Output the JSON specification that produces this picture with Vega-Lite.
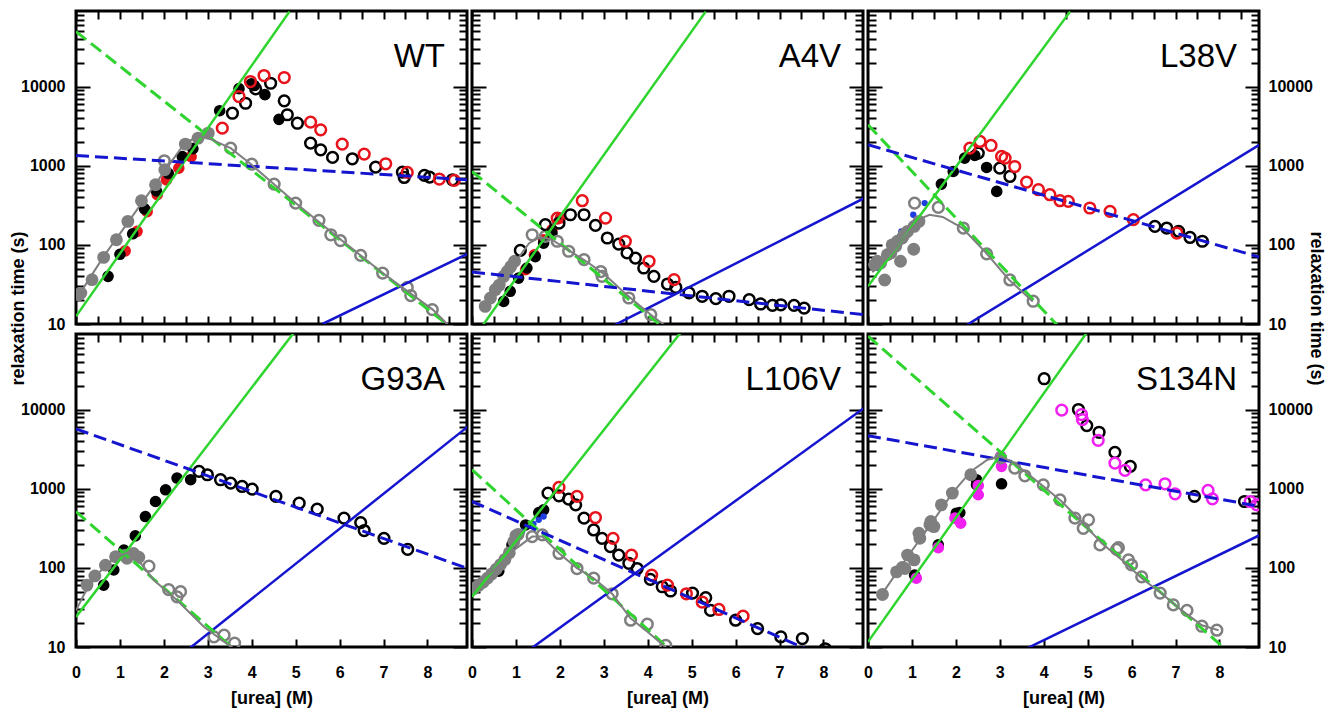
{
"$schema":"https://vega.github.io/schema/vega-lite/v6.json",
"autosize":{"type":"pad"},
"padding":{"left":7,"top":8,"right":4,"bottom":2},
"background":"white",
"datasets":{"d":[
{"p":"WT","g":"C","k":"refold","x":1.12,"y":84},{"p":"WT","g":"C","k":"refold","x":1.39,"y":148},{"p":"WT","g":"C","k":"refold","x":1.62,"y":263},{"p":"WT","g":"C","k":"refold","x":1.85,"y":430},{"p":"WT","g":"C","k":"refold","x":2.06,"y":660},{"p":"WT","g":"C","k":"refold","x":2.34,"y":930},{"p":"WT","g":"C","k":"refold","x":2.62,"y":1300},
{"p":"WT","g":"B","k":"refold","x":0.73,"y":40},{"p":"WT","g":"B","k":"refold","x":1.0,"y":76},{"p":"WT","g":"B","k":"refold","x":1.29,"y":138},{"p":"WT","g":"B","k":"refold","x":1.56,"y":285},{"p":"WT","g":"B","k":"refold","x":1.83,"y":480},{"p":"WT","g":"B","k":"refold","x":2.1,"y":800},{"p":"WT","g":"B","k":"refold","x":2.42,"y":1300},{"p":"WT","g":"B","k":"refold","x":2.66,"y":1640},{"p":"WT","g":"B","k":"refold","x":3.27,"y":4950},{"p":"WT","g":"B","k":"refold","x":3.71,"y":9400},{"p":"WT","g":"B","k":"refold","x":3.99,"y":10800},{"p":"WT","g":"B","k":"refold","x":4.06,"y":10300},{"p":"WT","g":"B","k":"refold","x":4.3,"y":7900},{"p":"WT","g":"B","k":"refold","x":4.62,"y":3850},
{"p":"WT","g":"A","k":"refold","x":0.06,"y":23.5},{"p":"WT","g":"A","k":"refold","x":0.11,"y":24.6},{"p":"WT","g":"A","k":"refold","x":0.365,"y":36.3},{"p":"WT","g":"A","k":"refold","x":0.63,"y":69.5},{"p":"WT","g":"A","k":"refold","x":0.92,"y":116},{"p":"WT","g":"A","k":"refold","x":1.18,"y":198},{"p":"WT","g":"A","k":"refold","x":1.49,"y":361},{"p":"WT","g":"A","k":"refold","x":1.81,"y":574},{"p":"WT","g":"A","k":"refold","x":2.02,"y":889},{"p":"WT","g":"A","k":"refold","x":2.49,"y":1871},{"p":"WT","g":"A","k":"refold","x":2.78,"y":2230},{"p":"WT","g":"A","k":"refold","x":3.01,"y":2577},
{"p":"WT","g":"A","k":"unfold","x":2.01,"y":1153},{"p":"WT","g":"A","k":"unfold","x":3.52,"y":1667},{"p":"WT","g":"A","k":"unfold","x":4.0,"y":1045},{"p":"WT","g":"A","k":"unfold","x":4.51,"y":585},{"p":"WT","g":"A","k":"unfold","x":5.0,"y":337},{"p":"WT","g":"A","k":"unfold","x":5.53,"y":204},{"p":"WT","g":"A","k":"unfold","x":5.8,"y":134},{"p":"WT","g":"A","k":"unfold","x":6.02,"y":113},{"p":"WT","g":"A","k":"unfold","x":6.48,"y":73.6},{"p":"WT","g":"A","k":"unfold","x":6.98,"y":44},{"p":"WT","g":"A","k":"unfold","x":7.54,"y":29},{"p":"WT","g":"A","k":"unfold","x":7.62,"y":22.8},{"p":"WT","g":"A","k":"unfold","x":8.11,"y":15.2},
{"p":"WT","g":"B","k":"unfold","x":3.56,"y":4600},{"p":"WT","g":"B","k":"unfold","x":3.86,"y":6150},{"p":"WT","g":"B","k":"unfold","x":4.09,"y":9340},{"p":"WT","g":"B","k":"unfold","x":4.43,"y":11000},{"p":"WT","g":"B","k":"unfold","x":4.74,"y":6590},{"p":"WT","g":"B","k":"unfold","x":4.81,"y":4400},{"p":"WT","g":"B","k":"unfold","x":5.04,"y":3440},{"p":"WT","g":"B","k":"unfold","x":5.34,"y":1924},{"p":"WT","g":"B","k":"unfold","x":5.57,"y":1587},{"p":"WT","g":"B","k":"unfold","x":5.84,"y":1271},{"p":"WT","g":"B","k":"unfold","x":6.29,"y":1222},{"p":"WT","g":"B","k":"unfold","x":6.82,"y":958},{"p":"WT","g":"B","k":"unfold","x":7.43,"y":828},{"p":"WT","g":"B","k":"unfold","x":7.47,"y":710},{"p":"WT","g":"B","k":"unfold","x":7.93,"y":754},{"p":"WT","g":"B","k":"unfold","x":8.05,"y":718},{"p":"WT","g":"B","k":"unfold","x":8.57,"y":664},
{"p":"WT","g":"C","k":"unfold","x":3.33,"y":2980},{"p":"WT","g":"C","k":"unfold","x":3.71,"y":7480},{"p":"WT","g":"C","k":"unfold","x":3.97,"y":11570},{"p":"WT","g":"C","k":"unfold","x":4.28,"y":13770},{"p":"WT","g":"C","k":"unfold","x":4.74,"y":13000},{"p":"WT","g":"C","k":"unfold","x":5.34,"y":3550},{"p":"WT","g":"C","k":"unfold","x":5.57,"y":2840},{"p":"WT","g":"C","k":"unfold","x":6.06,"y":1870},{"p":"WT","g":"C","k":"unfold","x":6.56,"y":1400},{"p":"WT","g":"C","k":"unfold","x":7.05,"y":1057},{"p":"WT","g":"C","k":"unfold","x":7.54,"y":822},{"p":"WT","g":"C","k":"unfold","x":8.27,"y":678},{"p":"WT","g":"C","k":"unfold","x":8.61,"y":652},
{"p":"WT","g":"M_f","k":"fit","x":0,"y":12.5},{"p":"WT","g":"M_f","k":"fit","x":4.86,"y":88500},{"p":"WT","g":"M_u","k":"fit","x":0,"y":49400},{"p":"WT","g":"M_u","k":"fit","x":8.5,"y":9.35},{"p":"WT","g":"D_f","k":"fit","x":5.61,"y":10},{"p":"WT","g":"D_f","k":"fit","x":8.91,"y":77},{"p":"WT","g":"D_u","k":"fit","x":0,"y":1346},{"p":"WT","g":"D_u","k":"fit","x":8.91,"y":664},
{"p":"WT","g":"A","k":"global","x":0,"y":20.3},{"p":"WT","g":"A","k":"global","x":0.63,"y":71.5},{"p":"WT","g":"A","k":"global","x":1.2,"y":198},{"p":"WT","g":"A","k":"global","x":1.82,"y":603},{"p":"WT","g":"A","k":"global","x":2.45,"y":1837},{"p":"WT","g":"A","k":"global","x":2.7,"y":2250},{"p":"WT","g":"A","k":"global","x":2.87,"y":2340},{"p":"WT","g":"A","k":"global","x":3.1,"y":2120},{"p":"WT","g":"A","k":"global","x":3.52,"y":1667},{"p":"WT","g":"A","k":"global","x":4.0,"y":1025},{"p":"WT","g":"A","k":"global","x":5.0,"y":337},{"p":"WT","g":"A","k":"global","x":6.03,"y":116},{"p":"WT","g":"A","k":"global","x":6.98,"y":44},{"p":"WT","g":"A","k":"global","x":8.12,"y":15.2},{"p":"WT","g":"A","k":"global","x":8.5,"y":9.35},

{"p":"A4V","g":"C","k":"refold","x":1.22,"y":48.5},{"p":"A4V","g":"C","k":"refold","x":1.42,"y":75},{"p":"A4V","g":"C","k":"refold","x":1.63,"y":116},{"p":"A4V","g":"C","k":"refold","x":1.82,"y":155},{"p":"A4V","g":"C","k":"refold","x":2.01,"y":218},
{"p":"A4V","g":"B","k":"refold","x":0.72,"y":19.3},{"p":"A4V","g":"B","k":"refold","x":0.87,"y":25.9},{"p":"A4V","g":"B","k":"refold","x":1.06,"y":38},{"p":"A4V","g":"B","k":"refold","x":1.25,"y":51},{"p":"A4V","g":"B","k":"refold","x":1.44,"y":71},{"p":"A4V","g":"B","k":"refold","x":1.63,"y":105},{"p":"A4V","g":"B","k":"refold","x":1.82,"y":141},
{"p":"A4V","g":"A","k":"refold","x":0.3,"y":16.7},{"p":"A4V","g":"A","k":"refold","x":0.42,"y":21.3},{"p":"A4V","g":"A","k":"refold","x":0.53,"y":27.2},{"p":"A4V","g":"A","k":"refold","x":0.62,"y":31},{"p":"A4V","g":"A","k":"refold","x":0.72,"y":40},{"p":"A4V","g":"A","k":"refold","x":0.8,"y":46},{"p":"A4V","g":"A","k":"refold","x":0.88,"y":53},{"p":"A4V","g":"A","k":"refold","x":0.97,"y":62},
{"p":"A4V","g":"A","k":"unfold","x":1.37,"y":134},{"p":"A4V","g":"A","k":"unfold","x":1.67,"y":128},{"p":"A4V","g":"A","k":"unfold","x":1.94,"y":111},{"p":"A4V","g":"A","k":"unfold","x":2.2,"y":83},{"p":"A4V","g":"A","k":"unfold","x":2.55,"y":65},{"p":"A4V","g":"A","k":"unfold","x":2.93,"y":46},{"p":"A4V","g":"A","k":"unfold","x":2.96,"y":40},{"p":"A4V","g":"A","k":"unfold","x":3.57,"y":21.3},{"p":"A4V","g":"A","k":"unfold","x":4.07,"y":13.1},
{"p":"A4V","g":"B","k":"unfold","x":1.1,"y":85},{"p":"A4V","g":"B","k":"unfold","x":1.67,"y":180},{"p":"A4V","g":"B","k":"unfold","x":1.98,"y":188},{"p":"A4V","g":"B","k":"unfold","x":2.24,"y":240},{"p":"A4V","g":"B","k":"unfold","x":2.55,"y":240},{"p":"A4V","g":"B","k":"unfold","x":2.81,"y":176},{"p":"A4V","g":"B","k":"unfold","x":3.08,"y":122},{"p":"A4V","g":"B","k":"unfold","x":3.34,"y":102},{"p":"A4V","g":"B","k":"unfold","x":3.53,"y":79},{"p":"A4V","g":"B","k":"unfold","x":3.72,"y":68},{"p":"A4V","g":"B","k":"unfold","x":3.91,"y":51},{"p":"A4V","g":"B","k":"unfold","x":4.14,"y":40},{"p":"A4V","g":"B","k":"unfold","x":4.45,"y":32},{"p":"A4V","g":"B","k":"unfold","x":4.64,"y":29},{"p":"A4V","g":"B","k":"unfold","x":4.94,"y":24.7},{"p":"A4V","g":"B","k":"unfold","x":5.24,"y":22.4},{"p":"A4V","g":"B","k":"unfold","x":5.55,"y":20.9},{"p":"A4V","g":"B","k":"unfold","x":5.85,"y":22.4},{"p":"A4V","g":"B","k":"unfold","x":6.31,"y":20.3},{"p":"A4V","g":"B","k":"unfold","x":6.57,"y":17.9},{"p":"A4V","g":"B","k":"unfold","x":6.84,"y":17.2},{"p":"A4V","g":"B","k":"unfold","x":7.03,"y":17.5},{"p":"A4V","g":"B","k":"unfold","x":7.33,"y":17.2},{"p":"A4V","g":"B","k":"unfold","x":7.56,"y":15.9},
{"p":"A4V","g":"C","k":"unfold","x":1.94,"y":218},{"p":"A4V","g":"C","k":"unfold","x":2.51,"y":361},{"p":"A4V","g":"C","k":"unfold","x":3.04,"y":218},{"p":"A4V","g":"C","k":"unfold","x":3.49,"y":111},{"p":"A4V","g":"C","k":"unfold","x":4.03,"y":62},{"p":"A4V","g":"C","k":"unfold","x":4.6,"y":36.3},
{"p":"A4V","g":"M_f","k":"fit","x":0.228,"y":9.35},{"p":"A4V","g":"M_f","k":"fit","x":5.32,"y":88500},{"p":"A4V","g":"M_u","k":"fit","x":0,"y":845},{"p":"A4V","g":"M_u","k":"fit","x":4.37,"y":8.9},{"p":"A4V","g":"D_f","k":"fit","x":3.19,"y":9.35},{"p":"A4V","g":"D_f","k":"fit","x":8.93,"y":390},{"p":"A4V","g":"D_u","k":"fit","x":0,"y":45.4},{"p":"A4V","g":"D_u","k":"fit","x":8.93,"y":13.1},
{"p":"A4V","g":"A","k":"global","x":0.25,"y":15},{"p":"A4V","g":"A","k":"global","x":0.6,"y":30},{"p":"A4V","g":"A","k":"global","x":1.0,"y":62},{"p":"A4V","g":"A","k":"global","x":1.3,"y":105},{"p":"A4V","g":"A","k":"global","x":1.55,"y":125},{"p":"A4V","g":"A","k":"global","x":1.8,"y":118},{"p":"A4V","g":"A","k":"global","x":2.2,"y":85},{"p":"A4V","g":"A","k":"global","x":2.6,"y":62},{"p":"A4V","g":"A","k":"global","x":3.0,"y":43},{"p":"A4V","g":"A","k":"global","x":3.5,"y":24},{"p":"A4V","g":"A","k":"global","x":4.07,"y":13.1},{"p":"A4V","g":"A","k":"global","x":4.4,"y":9.5},

{"p":"L38V","g":"B","k":"refold","x":1.67,"y":585},{"p":"L38V","g":"B","k":"refold","x":1.94,"y":845},{"p":"L38V","g":"B","k":"refold","x":2.2,"y":1245},{"p":"L38V","g":"B","k":"refold","x":2.43,"y":1346},{"p":"L38V","g":"B","k":"refold","x":2.7,"y":950},{"p":"L38V","g":"B","k":"refold","x":2.93,"y":473},
{"p":"L38V","g":"D","k":"refold","x":0.23,"y":51},{"p":"L38V","g":"D","k":"refold","x":0.53,"y":91},{"p":"L38V","g":"D","k":"refold","x":0.76,"y":148},{"p":"L38V","g":"D","k":"refold","x":1.03,"y":240},{"p":"L38V","g":"D","k":"refold","x":1.29,"y":337},
{"p":"L38V","g":"A","k":"refold","x":0.15,"y":56},{"p":"L38V","g":"A","k":"refold","x":0.21,"y":62},{"p":"L38V","g":"A","k":"refold","x":0.29,"y":59},{"p":"L38V","g":"A","k":"refold","x":0.38,"y":36},{"p":"L38V","g":"A","k":"refold","x":0.44,"y":75},{"p":"L38V","g":"A","k":"refold","x":0.52,"y":79},{"p":"L38V","g":"A","k":"refold","x":0.55,"y":100},{"p":"L38V","g":"A","k":"refold","x":0.63,"y":96},{"p":"L38V","g":"A","k":"refold","x":0.67,"y":111},{"p":"L38V","g":"A","k":"refold","x":0.74,"y":62},{"p":"L38V","g":"A","k":"refold","x":0.78,"y":122},{"p":"L38V","g":"A","k":"refold","x":0.82,"y":134},{"p":"L38V","g":"A","k":"refold","x":0.9,"y":148},{"p":"L38V","g":"A","k":"refold","x":1.04,"y":88},{"p":"L38V","g":"A","k":"refold","x":1.05,"y":171},{"p":"L38V","g":"A","k":"refold","x":1.16,"y":198},
{"p":"L38V","g":"A","k":"unfold","x":1.06,"y":337},{"p":"L38V","g":"A","k":"unfold","x":1.6,"y":297},{"p":"L38V","g":"A","k":"unfold","x":2.17,"y":163},{"p":"L38V","g":"A","k":"unfold","x":2.7,"y":77},{"p":"L38V","g":"A","k":"unfold","x":3.23,"y":36},{"p":"L38V","g":"A","k":"unfold","x":3.76,"y":19.4},
{"p":"L38V","g":"B","k":"unfold","x":2.51,"y":1442},{"p":"L38V","g":"B","k":"unfold","x":3.0,"y":931},{"p":"L38V","g":"B","k":"unfold","x":3.23,"y":731},{"p":"L38V","g":"B","k":"unfold","x":6.53,"y":171},{"p":"L38V","g":"B","k":"unfold","x":6.8,"y":163},{"p":"L38V","g":"B","k":"unfold","x":7.07,"y":148},{"p":"L38V","g":"B","k":"unfold","x":7.33,"y":124},{"p":"L38V","g":"B","k":"unfold","x":7.61,"y":111},
{"p":"L38V","g":"C","k":"unfold","x":2.32,"y":1667},{"p":"L38V","g":"C","k":"unfold","x":2.55,"y":2024},{"p":"L38V","g":"C","k":"unfold","x":2.8,"y":1800},{"p":"L38V","g":"C","k":"unfold","x":3.04,"y":1309},{"p":"L38V","g":"C","k":"unfold","x":3.12,"y":1245},{"p":"L38V","g":"C","k":"unfold","x":3.34,"y":977},{"p":"L38V","g":"C","k":"unfold","x":3.61,"y":621},{"p":"L38V","g":"C","k":"unfold","x":3.88,"y":497},{"p":"L38V","g":"C","k":"unfold","x":4.14,"y":430},{"p":"L38V","g":"C","k":"unfold","x":4.37,"y":361},{"p":"L38V","g":"C","k":"unfold","x":4.56,"y":354},{"p":"L38V","g":"C","k":"unfold","x":5.05,"y":292},{"p":"L38V","g":"C","k":"unfold","x":5.51,"y":265},{"p":"L38V","g":"C","k":"unfold","x":6.04,"y":208},{"p":"L38V","g":"C","k":"unfold","x":7.03,"y":141},
{"p":"L38V","g":"M_f","k":"fit","x":0,"y":29.9},{"p":"L38V","g":"M_f","k":"fit","x":4.6,"y":88500},{"p":"L38V","g":"M_u","k":"fit","x":0,"y":3280},{"p":"L38V","g":"M_u","k":"fit","x":4.37,"y":8.9},{"p":"L38V","g":"D_f","k":"fit","x":2.2,"y":9.35},{"p":"L38V","g":"D_f","k":"fit","x":8.93,"y":1871},{"p":"L38V","g":"D_u","k":"fit","x":0,"y":1837},{"p":"L38V","g":"D_u","k":"fit","x":8.93,"y":69.5},
{"p":"L38V","g":"A","k":"global","x":0.1,"y":45},{"p":"L38V","g":"A","k":"global","x":0.5,"y":75},{"p":"L38V","g":"A","k":"global","x":0.9,"y":140},{"p":"L38V","g":"A","k":"global","x":1.2,"y":215},{"p":"L38V","g":"A","k":"global","x":1.4,"y":240},{"p":"L38V","g":"A","k":"global","x":1.7,"y":225},{"p":"L38V","g":"A","k":"global","x":2.15,"y":163},{"p":"L38V","g":"A","k":"global","x":2.68,"y":80},{"p":"L38V","g":"A","k":"global","x":3.21,"y":36.3},{"p":"L38V","g":"A","k":"global","x":3.75,"y":19.3},

{"p":"G93A","g":"B","k":"refold","x":0.63,"y":60.5},{"p":"G93A","g":"B","k":"refold","x":0.86,"y":94},{"p":"G93A","g":"B","k":"refold","x":1.09,"y":168},{"p":"G93A","g":"B","k":"refold","x":1.35,"y":253},{"p":"G93A","g":"B","k":"refold","x":1.58,"y":445},{"p":"G93A","g":"B","k":"refold","x":1.81,"y":689},{"p":"G93A","g":"B","k":"refold","x":2.04,"y":969},{"p":"G93A","g":"B","k":"refold","x":2.3,"y":1363},{"p":"G93A","g":"B","k":"refold","x":2.61,"y":1298},
{"p":"G93A","g":"A","k":"refold","x":0.25,"y":60.5},{"p":"G93A","g":"A","k":"refold","x":0.43,"y":79},{"p":"G93A","g":"A","k":"refold","x":0.67,"y":108},{"p":"G93A","g":"A","k":"refold","x":0.9,"y":138},{"p":"G93A","g":"A","k":"refold","x":1.12,"y":145},{"p":"G93A","g":"A","k":"refold","x":1.16,"y":132},{"p":"G93A","g":"A","k":"refold","x":1.31,"y":152},{"p":"G93A","g":"A","k":"refold","x":1.43,"y":136},
{"p":"G93A","g":"A","k":"unfold","x":1.66,"y":105},{"p":"G93A","g":"A","k":"unfold","x":2.11,"y":53},{"p":"G93A","g":"A","k":"unfold","x":2.3,"y":43},{"p":"G93A","g":"A","k":"unfold","x":2.38,"y":50},{"p":"G93A","g":"A","k":"unfold","x":3.14,"y":13.4},{"p":"G93A","g":"A","k":"unfold","x":3.37,"y":14.1},{"p":"G93A","g":"A","k":"unfold","x":3.61,"y":11.2},
{"p":"G93A","g":"B","k":"unfold","x":2.8,"y":1652},{"p":"G93A","g":"B","k":"unfold","x":2.99,"y":1500},{"p":"G93A","g":"B","k":"unfold","x":3.29,"y":1298},{"p":"G93A","g":"B","k":"unfold","x":3.52,"y":1178},{"p":"G93A","g":"B","k":"unfold","x":3.78,"y":1067},{"p":"G93A","g":"B","k":"unfold","x":4.01,"y":987},{"p":"G93A","g":"B","k":"unfold","x":4.55,"y":798},{"p":"G93A","g":"B","k":"unfold","x":5.08,"y":656},{"p":"G93A","g":"B","k":"unfold","x":5.49,"y":551},{"p":"G93A","g":"B","k":"unfold","x":6.1,"y":424},{"p":"G93A","g":"B","k":"unfold","x":6.48,"y":373},{"p":"G93A","g":"B","k":"unfold","x":6.56,"y":296},{"p":"G93A","g":"B","k":"unfold","x":7.01,"y":236},{"p":"G93A","g":"B","k":"unfold","x":7.55,"y":171},
{"p":"G93A","g":"M_f","k":"fit","x":0,"y":24},{"p":"G93A","g":"M_f","k":"fit","x":4.96,"y":93800},{"p":"G93A","g":"M_u","k":"fit","x":0,"y":514},{"p":"G93A","g":"M_u","k":"fit","x":3.67,"y":8.65},{"p":"G93A","g":"D_f","k":"fit","x":2.53,"y":9.1},{"p":"G93A","g":"D_f","k":"fit","x":8.91,"y":6030},{"p":"G93A","g":"D_u","k":"fit","x":0,"y":5690},{"p":"G93A","g":"D_u","k":"fit","x":8.91,"y":98.5},
{"p":"G93A","g":"A","k":"global","x":0,"y":29},{"p":"G93A","g":"A","k":"global","x":0.2,"y":48},{"p":"G93A","g":"A","k":"global","x":0.5,"y":85},{"p":"G93A","g":"A","k":"global","x":0.85,"y":130},{"p":"G93A","g":"A","k":"global","x":1.16,"y":155},{"p":"G93A","g":"A","k":"global","x":1.5,"y":110},{"p":"G93A","g":"A","k":"global","x":1.77,"y":70},{"p":"G93A","g":"A","k":"global","x":2.3,"y":39},{"p":"G93A","g":"A","k":"global","x":2.91,"y":18},{"p":"G93A","g":"A","k":"global","x":3.59,"y":9.5},

{"p":"L106V","g":"B","k":"refold","x":0.61,"y":91},{"p":"L106V","g":"B","k":"refold","x":0.91,"y":195},{"p":"L106V","g":"B","k":"refold","x":1.22,"y":348},{"p":"L106V","g":"B","k":"refold","x":1.52,"y":500},{"p":"L106V","g":"B","k":"refold","x":1.63,"y":540},
{"p":"L106V","g":"D","k":"refold","x":0.08,"y":60},{"p":"L106V","g":"D","k":"refold","x":0.3,"y":72},{"p":"L106V","g":"D","k":"refold","x":0.6,"y":105},{"p":"L106V","g":"D","k":"refold","x":0.9,"y":170},{"p":"L106V","g":"D","k":"refold","x":1.14,"y":287},{"p":"L106V","g":"D","k":"refold","x":1.4,"y":360},{"p":"L106V","g":"D","k":"refold","x":1.52,"y":404},{"p":"L106V","g":"D","k":"refold","x":1.63,"y":445},
{"p":"L106V","g":"A","k":"refold","x":0.05,"y":55},{"p":"L106V","g":"A","k":"refold","x":0.15,"y":60},{"p":"L106V","g":"A","k":"refold","x":0.25,"y":66},{"p":"L106V","g":"A","k":"refold","x":0.35,"y":74},{"p":"L106V","g":"A","k":"refold","x":0.45,"y":84},{"p":"L106V","g":"A","k":"refold","x":0.55,"y":96},{"p":"L106V","g":"A","k":"refold","x":0.65,"y":110},{"p":"L106V","g":"A","k":"refold","x":0.75,"y":128},{"p":"L106V","g":"A","k":"refold","x":0.85,"y":155},{"p":"L106V","g":"A","k":"refold","x":0.95,"y":215},{"p":"L106V","g":"A","k":"refold","x":1.0,"y":255},{"p":"L106V","g":"A","k":"refold","x":1.05,"y":265},
{"p":"L106V","g":"A","k":"unfold","x":1.37,"y":248},{"p":"L106V","g":"A","k":"unfold","x":1.6,"y":261},{"p":"L106V","g":"A","k":"unfold","x":1.98,"y":152},{"p":"L106V","g":"A","k":"unfold","x":2.39,"y":98},{"p":"L106V","g":"A","k":"unfold","x":2.77,"y":74},{"p":"L106V","g":"A","k":"unfold","x":3.19,"y":47},{"p":"L106V","g":"A","k":"unfold","x":3.61,"y":21.8},{"p":"L106V","g":"A","k":"unfold","x":3.99,"y":19.4},{"p":"L106V","g":"A","k":"unfold","x":4.41,"y":10.5},
{"p":"L106V","g":"B","k":"unfold","x":1.73,"y":879},{"p":"L106V","g":"B","k":"unfold","x":1.98,"y":813},{"p":"L106V","g":"B","k":"unfold","x":2.2,"y":738},{"p":"L106V","g":"B","k":"unfold","x":2.36,"y":625},{"p":"L106V","g":"B","k":"unfold","x":2.55,"y":424},{"p":"L106V","g":"B","k":"unfold","x":2.77,"y":301},{"p":"L106V","g":"B","k":"unfold","x":2.96,"y":236},{"p":"L106V","g":"B","k":"unfold","x":3.15,"y":185},{"p":"L106V","g":"B","k":"unfold","x":3.34,"y":145},{"p":"L106V","g":"B","k":"unfold","x":3.57,"y":114},{"p":"L106V","g":"B","k":"unfold","x":3.76,"y":98},{"p":"L106V","g":"B","k":"unfold","x":4.06,"y":71.5},{"p":"L106V","g":"B","k":"unfold","x":4.33,"y":57.7},{"p":"L106V","g":"B","k":"unfold","x":4.52,"y":51},{"p":"L106V","g":"B","k":"unfold","x":5.02,"y":48},{"p":"L106V","g":"B","k":"unfold","x":5.32,"y":42},{"p":"L106V","g":"B","k":"unfold","x":5.43,"y":29},{"p":"L106V","g":"B","k":"unfold","x":6.0,"y":21.8},{"p":"L106V","g":"B","k":"unfold","x":6.5,"y":17.1},{"p":"L106V","g":"B","k":"unfold","x":7.03,"y":13.4},{"p":"L106V","g":"B","k":"unfold","x":7.52,"y":12.8},{"p":"L106V","g":"B","k":"unfold","x":8.04,"y":9.5},
{"p":"L106V","g":"C","k":"unfold","x":1.98,"y":1037},{"p":"L106V","g":"C","k":"unfold","x":2.39,"y":798},{"p":"L106V","g":"C","k":"unfold","x":2.81,"y":432},{"p":"L106V","g":"C","k":"unfold","x":3.21,"y":236},{"p":"L106V","g":"C","k":"unfold","x":3.63,"y":145},{"p":"L106V","g":"C","k":"unfold","x":4.09,"y":81},{"p":"L106V","g":"C","k":"unfold","x":4.45,"y":60.5},{"p":"L106V","g":"C","k":"unfold","x":4.88,"y":47},{"p":"L106V","g":"C","k":"unfold","x":5.24,"y":37},{"p":"L106V","g":"C","k":"unfold","x":5.62,"y":29.8},{"p":"L106V","g":"C","k":"unfold","x":6.17,"y":24.5},
{"p":"L106V","g":"M_f","k":"fit","x":0,"y":43},{"p":"L106V","g":"M_f","k":"fit","x":4.75,"y":93800},{"p":"L106V","g":"M_u","k":"fit","x":0,"y":1738},{"p":"L106V","g":"M_u","k":"fit","x":4.56,"y":8.65},{"p":"L106V","g":"D_f","k":"fit","x":1.29,"y":9.1},{"p":"L106V","g":"D_f","k":"fit","x":8.93,"y":10500},{"p":"L106V","g":"D_u","k":"fit","x":0,"y":689},{"p":"L106V","g":"D_u","k":"fit","x":7.67,"y":9.1},
{"p":"L106V","g":"A","k":"global","x":0,"y":57.7},{"p":"L106V","g":"A","k":"global","x":0.5,"y":95},{"p":"L106V","g":"A","k":"global","x":1.0,"y":175},{"p":"L106V","g":"A","k":"global","x":1.37,"y":248},{"p":"L106V","g":"A","k":"global","x":1.6,"y":248},{"p":"L106V","g":"A","k":"global","x":1.98,"y":153},{"p":"L106V","g":"A","k":"global","x":2.39,"y":99},{"p":"L106V","g":"A","k":"global","x":2.77,"y":74},{"p":"L106V","g":"A","k":"global","x":3.19,"y":47},{"p":"L106V","g":"A","k":"global","x":3.61,"y":23},{"p":"L106V","g":"A","k":"global","x":4.0,"y":15.5},{"p":"L106V","g":"A","k":"global","x":4.45,"y":9.5},

{"p":"S134N","g":"B","k":"refold","x":1.06,"y":81},{"p":"S134N","g":"B","k":"refold","x":1.6,"y":195},{"p":"S134N","g":"B","k":"refold","x":2.01,"y":490},{"p":"S134N","g":"B","k":"refold","x":2.09,"y":500},{"p":"S134N","g":"B","k":"refold","x":2.47,"y":1298},{"p":"S134N","g":"B","k":"refold","x":2.47,"y":1122},{"p":"S134N","g":"B","k":"refold","x":3.04,"y":1153},
{"p":"S134N","g":"E","k":"refold","x":1.1,"y":74},{"p":"S134N","g":"E","k":"refold","x":1.6,"y":180},{"p":"S134N","g":"E","k":"refold","x":1.98,"y":424},{"p":"S134N","g":"E","k":"refold","x":2.11,"y":366},{"p":"S134N","g":"E","k":"refold","x":2.51,"y":1099},{"p":"S134N","g":"E","k":"refold","x":2.51,"y":838},{"p":"S134N","g":"E","k":"refold","x":3.04,"y":1914},
{"p":"S134N","g":"A","k":"refold","x":0.33,"y":46},{"p":"S134N","g":"A","k":"refold","x":0.65,"y":89},{"p":"S134N","g":"A","k":"refold","x":0.78,"y":101},{"p":"S134N","g":"A","k":"refold","x":0.84,"y":98},{"p":"S134N","g":"A","k":"refold","x":0.9,"y":145},{"p":"S134N","g":"A","k":"refold","x":1.05,"y":126},{"p":"S134N","g":"A","k":"refold","x":1.16,"y":274},{"p":"S134N","g":"A","k":"refold","x":1.18,"y":236},{"p":"S134N","g":"A","k":"refold","x":1.41,"y":348},{"p":"S134N","g":"A","k":"refold","x":1.43,"y":385},{"p":"S134N","g":"A","k":"refold","x":1.5,"y":332},{"p":"S134N","g":"A","k":"refold","x":1.67,"y":625},{"p":"S134N","g":"A","k":"refold","x":1.92,"y":879},{"p":"S134N","g":"A","k":"refold","x":2.34,"y":1500},{"p":"S134N","g":"A","k":"refold","x":3.02,"y":2440},
{"p":"S134N","g":"E","k":"refold","x":3.02,"y":2565},
{"p":"S134N","g":"A","k":"unfold","x":3.34,"y":1824},{"p":"S134N","g":"A","k":"unfold","x":3.57,"y":1456},{"p":"S134N","g":"A","k":"unfold","x":3.99,"y":1119},{"p":"S134N","g":"A","k":"unfold","x":4.37,"y":723},{"p":"S134N","g":"A","k":"unfold","x":4.71,"y":424},{"p":"S134N","g":"A","k":"unfold","x":4.9,"y":316},{"p":"S134N","g":"A","k":"unfold","x":5.02,"y":404},{"p":"S134N","g":"A","k":"unfold","x":5.28,"y":195},{"p":"S134N","g":"A","k":"unfold","x":5.66,"y":171},{"p":"S134N","g":"A","k":"unfold","x":5.7,"y":180},{"p":"S134N","g":"A","k":"unfold","x":5.93,"y":126},{"p":"S134N","g":"A","k":"unfold","x":6.0,"y":109},{"p":"S134N","g":"A","k":"unfold","x":6.23,"y":77},{"p":"S134N","g":"A","k":"unfold","x":6.65,"y":48},{"p":"S134N","g":"A","k":"unfold","x":6.95,"y":34},{"p":"S134N","g":"A","k":"unfold","x":7.26,"y":29},{"p":"S134N","g":"A","k":"unfold","x":7.6,"y":18.3},{"p":"S134N","g":"A","k":"unfold","x":7.94,"y":16.3},
{"p":"S134N","g":"B","k":"unfold","x":4.01,"y":24500},{"p":"S134N","g":"B","k":"unfold","x":4.79,"y":10000},{"p":"S134N","g":"B","k":"unfold","x":4.98,"y":6270},{"p":"S134N","g":"B","k":"unfold","x":5.26,"y":5160},{"p":"S134N","g":"B","k":"unfold","x":5.62,"y":2880},{"p":"S134N","g":"B","k":"unfold","x":5.97,"y":1914},{"p":"S134N","g":"B","k":"unfold","x":7.43,"y":798},{"p":"S134N","g":"B","k":"unfold","x":8.57,"y":689},
{"p":"S134N","g":"E","k":"unfold","x":4.41,"y":9810},{"p":"S134N","g":"E","k":"unfold","x":4.86,"y":8650},{"p":"S134N","g":"E","k":"unfold","x":4.88,"y":7470},{"p":"S134N","g":"E","k":"unfold","x":5.24,"y":4080},{"p":"S134N","g":"E","k":"unfold","x":5.62,"y":2108},{"p":"S134N","g":"E","k":"unfold","x":5.85,"y":1702},{"p":"S134N","g":"E","k":"unfold","x":6.32,"y":1119},{"p":"S134N","g":"E","k":"unfold","x":6.76,"y":1153},{"p":"S134N","g":"E","k":"unfold","x":6.99,"y":861},{"p":"S134N","g":"E","k":"unfold","x":7.74,"y":950},{"p":"S134N","g":"E","k":"unfold","x":7.84,"y":745},{"p":"S134N","g":"E","k":"unfold","x":8.7,"y":689},{"p":"S134N","g":"E","k":"unfold","x":8.85,"y":625},
{"p":"S134N","g":"M_f","k":"fit","x":0,"y":11.6},{"p":"S134N","g":"M_f","k":"fit","x":4.98,"y":93800},{"p":"S134N","g":"M_u","k":"fit","x":0,"y":84900},{"p":"S134N","g":"M_u","k":"fit","x":8.21,"y":8.65},{"p":"S134N","g":"D_f","k":"fit","x":3.53,"y":9.1},{"p":"S134N","g":"D_f","k":"fit","x":8.93,"y":261},{"p":"S134N","g":"D_u","k":"fit","x":0,"y":4680},{"p":"S134N","g":"D_u","k":"fit","x":8.93,"y":596},
{"p":"S134N","g":"A","k":"global","x":0.33,"y":47.5},{"p":"S134N","g":"A","k":"global","x":0.9,"y":138},{"p":"S134N","g":"A","k":"global","x":1.5,"y":404},{"p":"S134N","g":"A","k":"global","x":1.92,"y":879},{"p":"S134N","g":"A","k":"global","x":2.34,"y":1652},{"p":"S134N","g":"A","k":"global","x":2.72,"y":2323},{"p":"S134N","g":"A","k":"global","x":3.02,"y":2560},{"p":"S134N","g":"A","k":"global","x":3.33,"y":2108},{"p":"S134N","g":"A","k":"global","x":3.95,"y":1119},{"p":"S134N","g":"A","k":"global","x":4.41,"y":689},{"p":"S134N","g":"A","k":"global","x":4.86,"y":385},{"p":"S134N","g":"A","k":"global","x":5.32,"y":204},{"p":"S134N","g":"A","k":"global","x":5.78,"y":126},{"p":"S134N","g":"A","k":"global","x":6.23,"y":74},{"p":"S134N","g":"A","k":"global","x":6.69,"y":47},{"p":"S134N","g":"A","k":"global","x":7.14,"y":29},{"p":"S134N","g":"A","k":"global","x":7.6,"y":18.8},{"p":"S134N","g":"A","k":"global","x":7.98,"y":16.3}
]},
"columns":3,
"spacing":{"row":10,"column":5},
"bounds":"flush",
"concat":[
{"width":391,"height":313,"title":"WT","data":{"name":"d"},"transform":[{"filter":"datum.p=='WT'"}],
"encoding":{"x":{"field":"x","type":"quantitative","scale":{"domain":[0,8.9],"nice":false,"zero":false},"axis":null},"y":{"field":"y","type":"quantitative","scale":{"type":"log","domain":[10,90000],"nice":false},"axis":null}},
"resolve":{"axis":{"x":"independent","y":"independent"}},
"layer":[
{"transform":[{"filter":"datum.k=='refold' && (datum.g=='B' || datum.g=='C' || datum.g=='E')"}],"mark":{"type":"circle","size":135,"opacity":1,"clip":true},"encoding":{"x":{"field":"x","type":"quantitative","scale":{"domain":[0,8.9],"nice":false,"zero":false},"axis":{"orient":"bottom","values":[0,0.5,1,1.5,2,2.5,3,3.5,4,4.5,5,5.5,6,6.5,7,7.5,8,8.5],"tickSize":-8,"labels":false,"title":null}},"y":{"field":"y","type":"quantitative","scale":{"type":"log","domain":[10,90000],"nice":false},"axis":{"orient":"left","values":[10,100,1000,10000],"tickSize":-14,"format":"d","labelPadding":25,"title":"relaxation time (s)","titleAngle":-90,"titleX":-58,"titleY":297,"titleAlign":"center","titleBaseline":"middle"}},"color":{"field":"g","type":"nominal","scale":{"domain":["A","B","C","D","E"],"range":["#7f7f7f","#000000","#e8141c","#1f3de0","#f020f0"]},"legend":null}}},
{"transform":[{"filter":"datum.k=='refold' && datum.g=='D'"}],"mark":{"type":"circle","size":40,"opacity":1,"clip":true},"encoding":{"color":{"field":"g","type":"nominal","scale":{"domain":["A","B","C","D","E"],"range":["#7f7f7f","#000000","#e8141c","#1f3de0","#f020f0"]},"legend":null}}},
{"transform":[{"filter":"datum.k=='refold' && datum.g=='A'"}],"mark":{"type":"circle","size":165,"opacity":1,"clip":true},"encoding":{"color":{"field":"g","type":"nominal","scale":{"domain":["A","B","C","D","E"],"range":["#7f7f7f","#000000","#e8141c","#1f3de0","#f020f0"]},"legend":null}}},
{"transform":[{"filter":"datum.k=='unfold'"}],"mark":{"type":"point","shape":"circle","filled":false,"size":115,"strokeWidth":2.5,"opacity":1,"clip":true},"encoding":{"x":{"field":"x","type":"quantitative","scale":{"domain":[0,8.9],"nice":false,"zero":false},"axis":{"orient":"top","values":[0,0.5,1,1.5,2,2.5,3,3.5,4,4.5,5,5.5,6,6.5,7,7.5,8,8.5],"tickSize":-8,"labels":false,"title":null}},"y":{"field":"y","type":"quantitative","scale":{"type":"log","domain":[10,90000],"nice":false},"axis":{"orient":"right","values":[10,100,1000,10000],"tickSize":-14,"labels":false,"title":null}},"color":{"field":"g","type":"nominal","scale":{"domain":["A","B","C","D","E"],"range":["#7f7f7f","#000000","#e8141c","#1f3de0","#f020f0"]},"legend":null}}},
{"transform":[{"filter":"datum.k=='fit' && (datum.g=='M_f' || datum.g=='D_f')"}],"mark":{"type":"line","strokeWidth":2.5,"clip":true},"encoding":{"y":{"field":"y","type":"quantitative","scale":{"type":"log","domain":[10,90000],"nice":false},"axis":{"orient":"left","values":[20,30,40,50,60,70,80,90,200,300,400,500,600,700,800,900,2000,3000,4000,5000,6000,7000,8000,9000,20000,30000,40000,50000,60000,70000,80000],"tickSize":-8,"labels":false,"title":null}},"stroke":{"field":"g","type":"nominal","scale":{"domain":["M_f","M_u","D_f","D_u"],"range":["#2fd42f","#2fd42f","#1515d0","#1515d0"]},"legend":null}}},
{"transform":[{"filter":"datum.k=='fit' && (datum.g=='M_u' || datum.g=='D_u')"}],"mark":{"type":"line","strokeWidth":3,"strokeDash":[13,6],"clip":true},"encoding":{"stroke":{"field":"g","type":"nominal","scale":{"domain":["M_f","M_u","D_f","D_u"],"range":["#2fd42f","#2fd42f","#1515d0","#1515d0"]},"legend":null}}},
{"transform":[{"filter":"datum.k=='global'"}],"mark":{"type":"line","strokeWidth":2,"color":"#7f7f7f","clip":true},"encoding":{"y":{"field":"y","type":"quantitative","scale":{"type":"log","domain":[10,90000],"nice":false},"axis":{"orient":"right","values":[20,30,40,50,60,70,80,90,200,300,400,500,600,700,800,900,2000,3000,4000,5000,6000,7000,8000,9000,20000,30000,40000,50000,60000,70000,80000],"tickSize":-8,"labels":false,"title":null}}}}
]},
{"width":391,"height":313,"title":"A4V","data":{"name":"d"},"transform":[{"filter":"datum.p=='A4V'"}],
"encoding":{"x":{"field":"x","type":"quantitative","scale":{"domain":[0,8.9],"nice":false,"zero":false},"axis":null},"y":{"field":"y","type":"quantitative","scale":{"type":"log","domain":[10,90000],"nice":false},"axis":null}},
"resolve":{"axis":{"x":"independent","y":"independent"}},
"layer":[
{"transform":[{"filter":"datum.k=='refold' && (datum.g=='B' || datum.g=='C' || datum.g=='E')"}],"mark":{"type":"circle","size":135,"opacity":1,"clip":true},"encoding":{"x":{"field":"x","type":"quantitative","scale":{"domain":[0,8.9],"nice":false,"zero":false},"axis":{"orient":"bottom","values":[0,0.5,1,1.5,2,2.5,3,3.5,4,4.5,5,5.5,6,6.5,7,7.5,8,8.5],"tickSize":-8,"labels":false,"title":null}},"y":{"field":"y","type":"quantitative","scale":{"type":"log","domain":[10,90000],"nice":false},"axis":{"orient":"left","values":[10,100,1000,10000],"tickSize":-14,"labels":false,"title":null}},"color":{"field":"g","type":"nominal","scale":{"domain":["A","B","C","D","E"],"range":["#7f7f7f","#000000","#e8141c","#1f3de0","#f020f0"]},"legend":null}}},
{"transform":[{"filter":"datum.k=='refold' && datum.g=='D'"}],"mark":{"type":"circle","size":40,"opacity":1,"clip":true},"encoding":{"color":{"field":"g","type":"nominal","scale":{"domain":["A","B","C","D","E"],"range":["#7f7f7f","#000000","#e8141c","#1f3de0","#f020f0"]},"legend":null}}},
{"transform":[{"filter":"datum.k=='refold' && datum.g=='A'"}],"mark":{"type":"circle","size":165,"opacity":1,"clip":true},"encoding":{"color":{"field":"g","type":"nominal","scale":{"domain":["A","B","C","D","E"],"range":["#7f7f7f","#000000","#e8141c","#1f3de0","#f020f0"]},"legend":null}}},
{"transform":[{"filter":"datum.k=='unfold'"}],"mark":{"type":"point","shape":"circle","filled":false,"size":115,"strokeWidth":2.5,"opacity":1,"clip":true},"encoding":{"x":{"field":"x","type":"quantitative","scale":{"domain":[0,8.9],"nice":false,"zero":false},"axis":{"orient":"top","values":[0,0.5,1,1.5,2,2.5,3,3.5,4,4.5,5,5.5,6,6.5,7,7.5,8,8.5],"tickSize":-8,"labels":false,"title":null}},"y":{"field":"y","type":"quantitative","scale":{"type":"log","domain":[10,90000],"nice":false},"axis":{"orient":"right","values":[10,100,1000,10000],"tickSize":-14,"labels":false,"title":null}},"color":{"field":"g","type":"nominal","scale":{"domain":["A","B","C","D","E"],"range":["#7f7f7f","#000000","#e8141c","#1f3de0","#f020f0"]},"legend":null}}},
{"transform":[{"filter":"datum.k=='fit' && (datum.g=='M_f' || datum.g=='D_f')"}],"mark":{"type":"line","strokeWidth":2.5,"clip":true},"encoding":{"y":{"field":"y","type":"quantitative","scale":{"type":"log","domain":[10,90000],"nice":false},"axis":{"orient":"left","values":[20,30,40,50,60,70,80,90,200,300,400,500,600,700,800,900,2000,3000,4000,5000,6000,7000,8000,9000,20000,30000,40000,50000,60000,70000,80000],"tickSize":-8,"labels":false,"title":null}},"stroke":{"field":"g","type":"nominal","scale":{"domain":["M_f","M_u","D_f","D_u"],"range":["#2fd42f","#2fd42f","#1515d0","#1515d0"]},"legend":null}}},
{"transform":[{"filter":"datum.k=='fit' && (datum.g=='M_u' || datum.g=='D_u')"}],"mark":{"type":"line","strokeWidth":3,"strokeDash":[13,6],"clip":true},"encoding":{"stroke":{"field":"g","type":"nominal","scale":{"domain":["M_f","M_u","D_f","D_u"],"range":["#2fd42f","#2fd42f","#1515d0","#1515d0"]},"legend":null}}},
{"transform":[{"filter":"datum.k=='global'"}],"mark":{"type":"line","strokeWidth":2,"color":"#7f7f7f","clip":true},"encoding":{"y":{"field":"y","type":"quantitative","scale":{"type":"log","domain":[10,90000],"nice":false},"axis":{"orient":"right","values":[20,30,40,50,60,70,80,90,200,300,400,500,600,700,800,900,2000,3000,4000,5000,6000,7000,8000,9000,20000,30000,40000,50000,60000,70000,80000],"tickSize":-8,"labels":false,"title":null}}}}
]},
{"width":391,"height":313,"title":"L38V","data":{"name":"d"},"transform":[{"filter":"datum.p=='L38V'"}],
"encoding":{"x":{"field":"x","type":"quantitative","scale":{"domain":[0,8.9],"nice":false,"zero":false},"axis":null},"y":{"field":"y","type":"quantitative","scale":{"type":"log","domain":[10,90000],"nice":false},"axis":null}},
"resolve":{"axis":{"x":"independent","y":"independent"}},
"layer":[
{"transform":[{"filter":"datum.k=='refold' && (datum.g=='B' || datum.g=='C' || datum.g=='E')"}],"mark":{"type":"circle","size":135,"opacity":1,"clip":true},"encoding":{"x":{"field":"x","type":"quantitative","scale":{"domain":[0,8.9],"nice":false,"zero":false},"axis":{"orient":"bottom","values":[0,0.5,1,1.5,2,2.5,3,3.5,4,4.5,5,5.5,6,6.5,7,7.5,8,8.5],"tickSize":-8,"labels":false,"title":null}},"y":{"field":"y","type":"quantitative","scale":{"type":"log","domain":[10,90000],"nice":false},"axis":{"orient":"left","values":[10,100,1000,10000],"tickSize":-14,"labels":false,"title":null}},"color":{"field":"g","type":"nominal","scale":{"domain":["A","B","C","D","E"],"range":["#7f7f7f","#000000","#e8141c","#1f3de0","#f020f0"]},"legend":null}}},
{"transform":[{"filter":"datum.k=='refold' && datum.g=='D'"}],"mark":{"type":"circle","size":40,"opacity":1,"clip":true},"encoding":{"color":{"field":"g","type":"nominal","scale":{"domain":["A","B","C","D","E"],"range":["#7f7f7f","#000000","#e8141c","#1f3de0","#f020f0"]},"legend":null}}},
{"transform":[{"filter":"datum.k=='refold' && datum.g=='A'"}],"mark":{"type":"circle","size":165,"opacity":1,"clip":true},"encoding":{"color":{"field":"g","type":"nominal","scale":{"domain":["A","B","C","D","E"],"range":["#7f7f7f","#000000","#e8141c","#1f3de0","#f020f0"]},"legend":null}}},
{"transform":[{"filter":"datum.k=='unfold'"}],"mark":{"type":"point","shape":"circle","filled":false,"size":115,"strokeWidth":2.5,"opacity":1,"clip":true},"encoding":{"x":{"field":"x","type":"quantitative","scale":{"domain":[0,8.9],"nice":false,"zero":false},"axis":{"orient":"top","values":[0,0.5,1,1.5,2,2.5,3,3.5,4,4.5,5,5.5,6,6.5,7,7.5,8,8.5],"tickSize":-8,"labels":false,"title":null}},"y":{"field":"y","type":"quantitative","scale":{"type":"log","domain":[10,90000],"nice":false},"axis":{"orient":"right","values":[10,100,1000,10000],"tickSize":-14,"format":"d","labelPadding":23,"title":"relaxation time (s)","titleAngle":90,"titleX":56,"titleY":297,"titleAlign":"center","titleBaseline":"middle"}},"color":{"field":"g","type":"nominal","scale":{"domain":["A","B","C","D","E"],"range":["#7f7f7f","#000000","#e8141c","#1f3de0","#f020f0"]},"legend":null}}},
{"transform":[{"filter":"datum.k=='fit' && (datum.g=='M_f' || datum.g=='D_f')"}],"mark":{"type":"line","strokeWidth":2.5,"clip":true},"encoding":{"y":{"field":"y","type":"quantitative","scale":{"type":"log","domain":[10,90000],"nice":false},"axis":{"orient":"left","values":[20,30,40,50,60,70,80,90,200,300,400,500,600,700,800,900,2000,3000,4000,5000,6000,7000,8000,9000,20000,30000,40000,50000,60000,70000,80000],"tickSize":-8,"labels":false,"title":null}},"stroke":{"field":"g","type":"nominal","scale":{"domain":["M_f","M_u","D_f","D_u"],"range":["#2fd42f","#2fd42f","#1515d0","#1515d0"]},"legend":null}}},
{"transform":[{"filter":"datum.k=='fit' && (datum.g=='M_u' || datum.g=='D_u')"}],"mark":{"type":"line","strokeWidth":3,"strokeDash":[13,6],"clip":true},"encoding":{"stroke":{"field":"g","type":"nominal","scale":{"domain":["M_f","M_u","D_f","D_u"],"range":["#2fd42f","#2fd42f","#1515d0","#1515d0"]},"legend":null}}},
{"transform":[{"filter":"datum.k=='global'"}],"mark":{"type":"line","strokeWidth":2,"color":"#7f7f7f","clip":true},"encoding":{"y":{"field":"y","type":"quantitative","scale":{"type":"log","domain":[10,90000],"nice":false},"axis":{"orient":"right","values":[20,30,40,50,60,70,80,90,200,300,400,500,600,700,800,900,2000,3000,4000,5000,6000,7000,8000,9000,20000,30000,40000,50000,60000,70000,80000],"tickSize":-8,"labels":false,"title":null}}}}
]},
{"width":391,"height":313,"title":"G93A","data":{"name":"d"},"transform":[{"filter":"datum.p=='G93A'"}],
"encoding":{"x":{"field":"x","type":"quantitative","scale":{"domain":[0,8.9],"nice":false,"zero":false},"axis":null},"y":{"field":"y","type":"quantitative","scale":{"type":"log","domain":[10,90000],"nice":false},"axis":null}},
"resolve":{"axis":{"x":"independent","y":"independent"}},
"layer":[
{"transform":[{"filter":"datum.k=='refold' && (datum.g=='B' || datum.g=='C' || datum.g=='E')"}],"mark":{"type":"circle","size":135,"opacity":1,"clip":true},"encoding":{"x":{"field":"x","type":"quantitative","scale":{"domain":[0,8.9],"nice":false,"zero":false},"axis":{"orient":"bottom","values":[0,0.5,1,1.5,2,2.5,3,3.5,4,4.5,5,5.5,6,6.5,7,7.5,8,8.5],"tickSize":-8,"format":"d","labelPadding":25,"labelExpr":"datum.value % 1 == 0 ? datum.label : ''","title":"[urea] (M)","titleY":56,"titleBaseline":"alphabetic"}},"y":{"field":"y","type":"quantitative","scale":{"type":"log","domain":[10,90000],"nice":false},"axis":{"orient":"left","values":[10,100,1000,10000],"tickSize":-14,"format":"d","labelPadding":25,"title":null}},"color":{"field":"g","type":"nominal","scale":{"domain":["A","B","C","D","E"],"range":["#7f7f7f","#000000","#e8141c","#1f3de0","#f020f0"]},"legend":null}}},
{"transform":[{"filter":"datum.k=='refold' && datum.g=='D'"}],"mark":{"type":"circle","size":40,"opacity":1,"clip":true},"encoding":{"color":{"field":"g","type":"nominal","scale":{"domain":["A","B","C","D","E"],"range":["#7f7f7f","#000000","#e8141c","#1f3de0","#f020f0"]},"legend":null}}},
{"transform":[{"filter":"datum.k=='refold' && datum.g=='A'"}],"mark":{"type":"circle","size":165,"opacity":1,"clip":true},"encoding":{"color":{"field":"g","type":"nominal","scale":{"domain":["A","B","C","D","E"],"range":["#7f7f7f","#000000","#e8141c","#1f3de0","#f020f0"]},"legend":null}}},
{"transform":[{"filter":"datum.k=='unfold'"}],"mark":{"type":"point","shape":"circle","filled":false,"size":115,"strokeWidth":2.5,"opacity":1,"clip":true},"encoding":{"x":{"field":"x","type":"quantitative","scale":{"domain":[0,8.9],"nice":false,"zero":false},"axis":{"orient":"top","values":[0,0.5,1,1.5,2,2.5,3,3.5,4,4.5,5,5.5,6,6.5,7,7.5,8,8.5],"tickSize":-8,"labels":false,"title":null}},"y":{"field":"y","type":"quantitative","scale":{"type":"log","domain":[10,90000],"nice":false},"axis":{"orient":"right","values":[10,100,1000,10000],"tickSize":-14,"labels":false,"title":null}},"color":{"field":"g","type":"nominal","scale":{"domain":["A","B","C","D","E"],"range":["#7f7f7f","#000000","#e8141c","#1f3de0","#f020f0"]},"legend":null}}},
{"transform":[{"filter":"datum.k=='fit' && (datum.g=='M_f' || datum.g=='D_f')"}],"mark":{"type":"line","strokeWidth":2.5,"clip":true},"encoding":{"y":{"field":"y","type":"quantitative","scale":{"type":"log","domain":[10,90000],"nice":false},"axis":{"orient":"left","values":[20,30,40,50,60,70,80,90,200,300,400,500,600,700,800,900,2000,3000,4000,5000,6000,7000,8000,9000,20000,30000,40000,50000,60000,70000,80000],"tickSize":-8,"labels":false,"title":null}},"stroke":{"field":"g","type":"nominal","scale":{"domain":["M_f","M_u","D_f","D_u"],"range":["#2fd42f","#2fd42f","#1515d0","#1515d0"]},"legend":null}}},
{"transform":[{"filter":"datum.k=='fit' && (datum.g=='M_u' || datum.g=='D_u')"}],"mark":{"type":"line","strokeWidth":3,"strokeDash":[13,6],"clip":true},"encoding":{"stroke":{"field":"g","type":"nominal","scale":{"domain":["M_f","M_u","D_f","D_u"],"range":["#2fd42f","#2fd42f","#1515d0","#1515d0"]},"legend":null}}},
{"transform":[{"filter":"datum.k=='global'"}],"mark":{"type":"line","strokeWidth":2,"color":"#7f7f7f","clip":true},"encoding":{"y":{"field":"y","type":"quantitative","scale":{"type":"log","domain":[10,90000],"nice":false},"axis":{"orient":"right","values":[20,30,40,50,60,70,80,90,200,300,400,500,600,700,800,900,2000,3000,4000,5000,6000,7000,8000,9000,20000,30000,40000,50000,60000,70000,80000],"tickSize":-8,"labels":false,"title":null}}}}
]},
{"width":391,"height":313,"title":"L106V","data":{"name":"d"},"transform":[{"filter":"datum.p=='L106V'"}],
"encoding":{"x":{"field":"x","type":"quantitative","scale":{"domain":[0,8.9],"nice":false,"zero":false},"axis":null},"y":{"field":"y","type":"quantitative","scale":{"type":"log","domain":[10,90000],"nice":false},"axis":null}},
"resolve":{"axis":{"x":"independent","y":"independent"}},
"layer":[
{"transform":[{"filter":"datum.k=='refold' && (datum.g=='B' || datum.g=='C' || datum.g=='E')"}],"mark":{"type":"circle","size":135,"opacity":1,"clip":true},"encoding":{"x":{"field":"x","type":"quantitative","scale":{"domain":[0,8.9],"nice":false,"zero":false},"axis":{"orient":"bottom","values":[0,0.5,1,1.5,2,2.5,3,3.5,4,4.5,5,5.5,6,6.5,7,7.5,8,8.5],"tickSize":-8,"format":"d","labelPadding":25,"labelExpr":"datum.value % 1 == 0 ? datum.label : ''","title":"[urea] (M)","titleY":56,"titleBaseline":"alphabetic"}},"y":{"field":"y","type":"quantitative","scale":{"type":"log","domain":[10,90000],"nice":false},"axis":{"orient":"left","values":[10,100,1000,10000],"tickSize":-14,"labels":false,"title":null}},"color":{"field":"g","type":"nominal","scale":{"domain":["A","B","C","D","E"],"range":["#7f7f7f","#000000","#e8141c","#1f3de0","#f020f0"]},"legend":null}}},
{"transform":[{"filter":"datum.k=='refold' && datum.g=='D'"}],"mark":{"type":"circle","size":40,"opacity":1,"clip":true},"encoding":{"color":{"field":"g","type":"nominal","scale":{"domain":["A","B","C","D","E"],"range":["#7f7f7f","#000000","#e8141c","#1f3de0","#f020f0"]},"legend":null}}},
{"transform":[{"filter":"datum.k=='refold' && datum.g=='A'"}],"mark":{"type":"circle","size":165,"opacity":1,"clip":true},"encoding":{"color":{"field":"g","type":"nominal","scale":{"domain":["A","B","C","D","E"],"range":["#7f7f7f","#000000","#e8141c","#1f3de0","#f020f0"]},"legend":null}}},
{"transform":[{"filter":"datum.k=='unfold'"}],"mark":{"type":"point","shape":"circle","filled":false,"size":115,"strokeWidth":2.5,"opacity":1,"clip":true},"encoding":{"x":{"field":"x","type":"quantitative","scale":{"domain":[0,8.9],"nice":false,"zero":false},"axis":{"orient":"top","values":[0,0.5,1,1.5,2,2.5,3,3.5,4,4.5,5,5.5,6,6.5,7,7.5,8,8.5],"tickSize":-8,"labels":false,"title":null}},"y":{"field":"y","type":"quantitative","scale":{"type":"log","domain":[10,90000],"nice":false},"axis":{"orient":"right","values":[10,100,1000,10000],"tickSize":-14,"labels":false,"title":null}},"color":{"field":"g","type":"nominal","scale":{"domain":["A","B","C","D","E"],"range":["#7f7f7f","#000000","#e8141c","#1f3de0","#f020f0"]},"legend":null}}},
{"transform":[{"filter":"datum.k=='fit' && (datum.g=='M_f' || datum.g=='D_f')"}],"mark":{"type":"line","strokeWidth":2.5,"clip":true},"encoding":{"y":{"field":"y","type":"quantitative","scale":{"type":"log","domain":[10,90000],"nice":false},"axis":{"orient":"left","values":[20,30,40,50,60,70,80,90,200,300,400,500,600,700,800,900,2000,3000,4000,5000,6000,7000,8000,9000,20000,30000,40000,50000,60000,70000,80000],"tickSize":-8,"labels":false,"title":null}},"stroke":{"field":"g","type":"nominal","scale":{"domain":["M_f","M_u","D_f","D_u"],"range":["#2fd42f","#2fd42f","#1515d0","#1515d0"]},"legend":null}}},
{"transform":[{"filter":"datum.k=='fit' && (datum.g=='M_u' || datum.g=='D_u')"}],"mark":{"type":"line","strokeWidth":3,"strokeDash":[13,6],"clip":true},"encoding":{"stroke":{"field":"g","type":"nominal","scale":{"domain":["M_f","M_u","D_f","D_u"],"range":["#2fd42f","#2fd42f","#1515d0","#1515d0"]},"legend":null}}},
{"transform":[{"filter":"datum.k=='global'"}],"mark":{"type":"line","strokeWidth":2,"color":"#7f7f7f","clip":true},"encoding":{"y":{"field":"y","type":"quantitative","scale":{"type":"log","domain":[10,90000],"nice":false},"axis":{"orient":"right","values":[20,30,40,50,60,70,80,90,200,300,400,500,600,700,800,900,2000,3000,4000,5000,6000,7000,8000,9000,20000,30000,40000,50000,60000,70000,80000],"tickSize":-8,"labels":false,"title":null}}}}
]},
{"width":391,"height":313,"title":"S134N","data":{"name":"d"},"transform":[{"filter":"datum.p=='S134N'"}],
"encoding":{"x":{"field":"x","type":"quantitative","scale":{"domain":[0,8.9],"nice":false,"zero":false},"axis":null},"y":{"field":"y","type":"quantitative","scale":{"type":"log","domain":[10,90000],"nice":false},"axis":null}},
"resolve":{"axis":{"x":"independent","y":"independent"}},
"layer":[
{"transform":[{"filter":"datum.k=='refold' && (datum.g=='B' || datum.g=='C' || datum.g=='E')"}],"mark":{"type":"circle","size":135,"opacity":1,"clip":true},"encoding":{"x":{"field":"x","type":"quantitative","scale":{"domain":[0,8.9],"nice":false,"zero":false},"axis":{"orient":"bottom","values":[0,0.5,1,1.5,2,2.5,3,3.5,4,4.5,5,5.5,6,6.5,7,7.5,8,8.5],"tickSize":-8,"format":"d","labelPadding":25,"labelExpr":"datum.value % 1 == 0 ? datum.label : ''","title":"[urea] (M)","titleY":56,"titleBaseline":"alphabetic"}},"y":{"field":"y","type":"quantitative","scale":{"type":"log","domain":[10,90000],"nice":false},"axis":{"orient":"left","values":[10,100,1000,10000],"tickSize":-14,"labels":false,"title":null}},"color":{"field":"g","type":"nominal","scale":{"domain":["A","B","C","D","E"],"range":["#7f7f7f","#000000","#e8141c","#1f3de0","#f020f0"]},"legend":null}}},
{"transform":[{"filter":"datum.k=='refold' && datum.g=='D'"}],"mark":{"type":"circle","size":40,"opacity":1,"clip":true},"encoding":{"color":{"field":"g","type":"nominal","scale":{"domain":["A","B","C","D","E"],"range":["#7f7f7f","#000000","#e8141c","#1f3de0","#f020f0"]},"legend":null}}},
{"transform":[{"filter":"datum.k=='refold' && datum.g=='A'"}],"mark":{"type":"circle","size":165,"opacity":1,"clip":true},"encoding":{"color":{"field":"g","type":"nominal","scale":{"domain":["A","B","C","D","E"],"range":["#7f7f7f","#000000","#e8141c","#1f3de0","#f020f0"]},"legend":null}}},
{"transform":[{"filter":"datum.k=='unfold'"}],"mark":{"type":"point","shape":"circle","filled":false,"size":115,"strokeWidth":2.5,"opacity":1,"clip":true},"encoding":{"x":{"field":"x","type":"quantitative","scale":{"domain":[0,8.9],"nice":false,"zero":false},"axis":{"orient":"top","values":[0,0.5,1,1.5,2,2.5,3,3.5,4,4.5,5,5.5,6,6.5,7,7.5,8,8.5],"tickSize":-8,"labels":false,"title":null}},"y":{"field":"y","type":"quantitative","scale":{"type":"log","domain":[10,90000],"nice":false},"axis":{"orient":"right","values":[10,100,1000,10000],"tickSize":-14,"format":"d","labelPadding":23,"title":null}},"color":{"field":"g","type":"nominal","scale":{"domain":["A","B","C","D","E"],"range":["#7f7f7f","#000000","#e8141c","#1f3de0","#f020f0"]},"legend":null}}},
{"transform":[{"filter":"datum.k=='fit' && (datum.g=='M_f' || datum.g=='D_f')"}],"mark":{"type":"line","strokeWidth":2.5,"clip":true},"encoding":{"y":{"field":"y","type":"quantitative","scale":{"type":"log","domain":[10,90000],"nice":false},"axis":{"orient":"left","values":[20,30,40,50,60,70,80,90,200,300,400,500,600,700,800,900,2000,3000,4000,5000,6000,7000,8000,9000,20000,30000,40000,50000,60000,70000,80000],"tickSize":-8,"labels":false,"title":null}},"stroke":{"field":"g","type":"nominal","scale":{"domain":["M_f","M_u","D_f","D_u"],"range":["#2fd42f","#2fd42f","#1515d0","#1515d0"]},"legend":null}}},
{"transform":[{"filter":"datum.k=='fit' && (datum.g=='M_u' || datum.g=='D_u')"}],"mark":{"type":"line","strokeWidth":3,"strokeDash":[13,6],"clip":true},"encoding":{"stroke":{"field":"g","type":"nominal","scale":{"domain":["M_f","M_u","D_f","D_u"],"range":["#2fd42f","#2fd42f","#1515d0","#1515d0"]},"legend":null}}},
{"transform":[{"filter":"datum.k=='global'"}],"mark":{"type":"line","strokeWidth":2,"color":"#7f7f7f","clip":true},"encoding":{"y":{"field":"y","type":"quantitative","scale":{"type":"log","domain":[10,90000],"nice":false},"axis":{"orient":"right","values":[20,30,40,50,60,70,80,90,200,300,400,500,600,700,800,900,2000,3000,4000,5000,6000,7000,8000,9000,20000,30000,40000,50000,60000,70000,80000],"tickSize":-8,"labels":false,"title":null}}}}
]}
],
"config":{
"view":{"stroke":"black","strokeWidth":3},
"axis":{"domain":false,"grid":false,"ticks":true,"tickColor":"black","tickWidth":2,"labelColor":"black","labelFont":"Liberation Sans","labelFontSize":16,"labelFontWeight":"bold","titleFont":"Liberation Sans","titleFontSize":18,"titleFontWeight":"bold","titleColor":"black","labelOverlap":false,"labelFlush":false,"labelBound":false},
"title":{"anchor":"end","frame":"group","orient":"top","offset":0,"dx":-22,"dy":68,"baseline":"alphabetic","fontSize":33,"fontWeight":"normal","font":"Liberation Sans","color":"black"}
}
}
